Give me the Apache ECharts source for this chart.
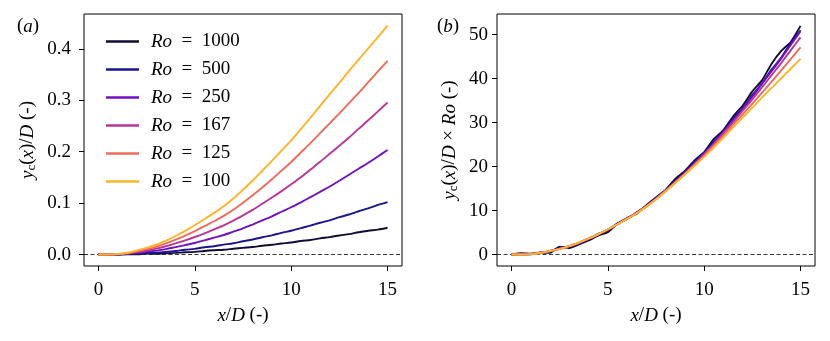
<!DOCTYPE html>
<html>
<head>
<meta charset="utf-8">
<script src="https://cdn.jsdelivr.net/npm/echarts@6/dist/echarts.min.js"></script>
<style>
html,body{margin:0;padding:0;background:#fff;}
#c{width:830px;height:341px;}
</style>
</head>
<body>
<div id="c"></div>
<script>
// ---- data ----
const xD = [0,0.5,1,1.5,2,2.5,3,3.5,4,4.5,5,5.5,6,6.5,7,7.5,8,8.5,9,9.5,10,10.5,11,11.5,12,12.5,13,13.5,14,14.5,15];
const roValues = [1000, 500, 250, 167, 125, 100];
// y_c(x)/D x Ro, sampled at xD
const ycRo_1000 = [0,0.3,0.2,0.5,0.4,1.8,1.5,2.3,3.2,4.3,5.1,7.0,8.3,9.3,11.2,13.0,14.7,17.2,19.0,21.4,23.3,26.3,28.3,31.4,33.9,37.1,39.6,43.4,46.3,48.4,52.0];
const ycRo_500  = [0,0.1,0.05,0.4,0.6,1.6,1.8,2.5,3.4,4.7,5.5,7.1,8.1,9.6,11.0,12.9,14.6,16.8,18.7,21.1,23.1,25.7,28.1,30.9,33.3,36.3,38.9,42.1,44.8,48.2,51.0];
const ycRo_250  = [0,0.05,0.1,0.3,0.8,1.4,1.9,2.6,3.6,4.6,5.6,6.9,8.2,9.5,11.1,12.7,14.6,16.6,18.6,20.8,23.0,25.4,27.9,30.5,33.1,35.9,38.8,41.7,44.6,47.7,50.8];
const ycRo_167  = [0,0.02,0.1,0.35,0.8,1.3,1.9,2.7,3.6,4.6,5.7,6.9,8.2,9.5,11.0,12.7,14.5,16.5,18.5,20.6,22.8,25.1,27.6,30.1,32.7,35.3,38.0,40.8,43.6,46.5,49.4];
const ycRo_125  = [0,0.02,0.1,0.35,0.8,1.3,1.9,2.7,3.6,4.6,5.7,6.9,8.1,9.4,10.9,12.6,14.4,16.3,18.3,20.4,22.5,24.8,27.1,29.5,31.9,34.3,36.8,39.3,41.9,44.5,47.1];
const ycRo_100  = [0,0.02,0.1,0.35,0.8,1.3,1.9,2.7,3.6,4.6,5.7,6.9,8.1,9.4,10.9,12.6,14.4,16.3,18.2,20.2,22.2,24.4,26.6,28.9,31.2,33.4,35.7,37.9,40.1,42.3,44.5];
const xTicks = [0,5,10,15];
const yTicksA = [0,0.1,0.2,0.3,0.4];
const yTicksB = [0,10,20,30,40,50];

// ---- styles ----
const seriesVals = [ycRo_1000, ycRo_500, ycRo_250, ycRo_167, ycRo_125, ycRo_100];
const colors = ['#110c36','#1b1590','#7012bf','#b93598','#ee6b5c','#fdb42a'];
const FONT = 'Liberation Serif';
const FS = 19;
const rich = {
  i: {fontFamily: FONT, fontStyle: 'italic', fontSize: FS, color: '#000'},
  s: {fontFamily: FONT, fontSize: 13, color: '#000', padding: [8,0,0,0]},
  n: {fontFamily: FONT, fontSize: FS, color: '#000'}
};

const chart = echarts.init(document.getElementById('c'), null, {renderer: 'canvas'});

const grids = [
  {left: 84, top: 14, width: 318, height: 252, show: true, borderColor: '#000', borderWidth: 1, backgroundColor: 'transparent'},
  {left: 497, top: 14, width: 318, height: 252, show: true, borderColor: '#000', borderWidth: 1, backgroundColor: 'transparent'}
];

function xAxis(gi) {
  return {
    type: 'value', gridIndex: gi, min: -0.75, max: 15.75,
    name: '{i|x}{n|/}{i|D}{n| (-)}', nameLocation: 'middle', nameGap: 40, nameMoveOverlap: false,
    nameTextStyle: {rich: rich, fontFamily: FONT, fontSize: FS},
    axisLine: {show: false, onZero: false},
    splitLine: {show: false},
    axisTick: {show: true, inside: false, length: 5, lineStyle: {color: '#000', width: 1}, customValues: xTicks},
    axisLabel: {color: '#000', fontFamily: FONT, fontSize: FS, margin: 15, customValues: xTicks, formatter: v => String(v)}
  };
}
function yAxis(gi, min, max, ticks, name, gap, margin, fmt) {
  return {
    type: 'value', gridIndex: gi, min: min, max: max,
    name: name, nameLocation: 'middle', nameGap: gap, nameMoveOverlap: false,
    nameTextStyle: {rich: rich, fontFamily: FONT, fontSize: FS},
    axisLine: {show: false, onZero: false},
    splitLine: {show: false},
    axisTick: {show: true, inside: false, length: 5, lineStyle: {color: '#000', width: 1}, customValues: ticks},
    axisLabel: {color: '#000', fontFamily: FONT, fontSize: FS, margin: margin, customValues: ticks, formatter: fmt}
  };
}

const series = [];
const zeroLine = {
  silent: true, symbol: ['none','none'], label: {show: false},
  lineStyle: {type: [4,2.5], color: '#222', width: 0.9},
  data: [{yAxis: 0}], animation: false
};
roValues.forEach((ro, k) => {
  const vals = seriesVals[k];
  series.push({
    type: 'line', name: 'Ro = ' + ro, xAxisIndex: 0, yAxisIndex: 0,
    data: xD.map((x, j) => [x, vals[j] / ro]),
    showSymbol: false, smooth: 0.3, color: colors[k],
    lineStyle: {width: 1.9, color: colors[k]},
    markLine: k === 0 ? zeroLine : undefined,
    z: 2 + k
  });
});
roValues.forEach((ro, k) => {
  const vals = seriesVals[k];
  series.push({
    type: 'line', name: 'Ro = ' + ro, xAxisIndex: 1, yAxisIndex: 1,
    data: xD.map((x, j) => [x, vals[j]]),
    showSymbol: false, smooth: k >= 2 ? 0.3 : 0.15, color: colors[k],
    lineStyle: {width: 1.9, color: colors[k]},
    markLine: k === 0 ? zeroLine : undefined,
    z: 2 + k
  });
});

chart.setOption({
  animation: false,
  backgroundColor: '#fff',
  textStyle: {fontFamily: FONT},
  title: [
    {text: '({i|a})', left: 12, top: 12, textStyle: {fontFamily: FONT, fontSize: FS, fontWeight: 'normal', color: '#000', rich: rich}},
    {text: '({i|b})', left: 432, top: 12, textStyle: {fontFamily: FONT, fontSize: FS, fontWeight: 'normal', color: '#000', rich: rich}}
  ],
  legend: {
    show: true, orient: 'vertical', left: 101, top: 27,
    icon: 'rect', itemWidth: 33, itemHeight: 2.5, itemGap: 9,
    selectedMode: false,
    data: roValues.map(ro => 'Ro = ' + ro),
    formatter: name => '{i|Ro}{n|  =  ' + name.split('= ')[1] + '}',
    textStyle: {fontFamily: FONT, fontSize: FS, color: '#000', lineHeight: 19,
      rich: {
        i: {fontFamily: FONT, fontStyle: 'italic', fontSize: FS, color: '#000', padding: [0,0,0,7]},
        n: {fontFamily: FONT, fontSize: FS, color: '#000'}
      }}
  },
  grid: grids,
  xAxis: [xAxis(0), xAxis(1)],
  yAxis: [
    yAxis(0, -0.0223, 0.4678, yTicksA, '{i|y}{s|c}{n|(}{i|x}{n|)/}{i|D}{n| (-)}', 46, 13, v => v.toFixed(1)),
    yAxis(1, -2.6, 54.7, yTicksB, '{i|y}{s|c}{n|(}{i|x}{n|)/}{i|D}{n| × }{i|Ro}{n| (-)}', 37, 9, v => String(v))
  ],
  series: series
});
</script>
</body>
</html>
